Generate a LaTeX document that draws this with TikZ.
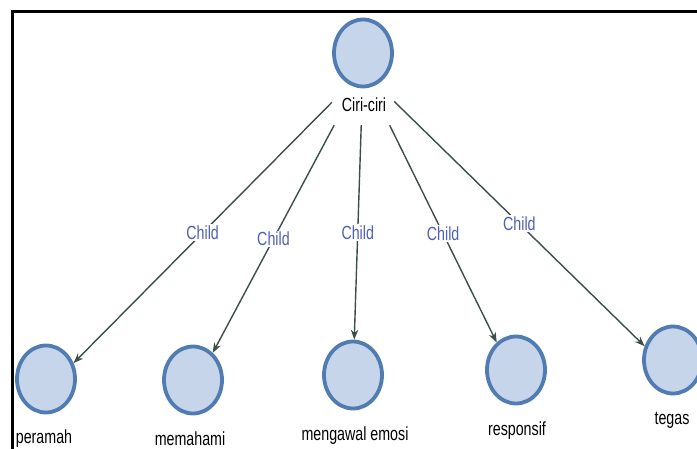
\documentclass[tikz,border=0pt]{standalone}
\usepackage{fontspec}
\setmainfont{Liberation Sans}[FakeStretch=0.75]
\usetikzlibrary{shapes.geometric,arrows.meta}
\definecolor{cfill}{RGB}{198,213,234}
\definecolor{cline}{RGB}{80,124,178}
\definecolor{edgec}{RGB}{60,78,74}
\definecolor{childc}{RGB}{78,96,180}
\begin{document}
\begin{tikzpicture}[x=1pt,y=-1pt,
  ent/.style={ellipse,draw=cline,fill=cfill,line width=3.8pt,minimum width=58pt,minimum height=67pt,inner sep=0pt},
  lbl/.style={font=\fontsize{19}{21}\selectfont,text=black,inner sep=1pt},
  rel/.style={draw=edgec,line width=1.4pt,-{Stealth[length=10pt,width=7.5pt]}},
  rl/.style={font=\fontsize{19}{21}\selectfont,text=childc,fill=white,inner sep=1.5pt}]
\clip (0,0) rectangle (697,448);
\draw[line width=3pt] (12.5,480) -- (12.5,11.5) -- (720,11.5);
% parent
\node[ent] (top) at (363,53) {};
\node[lbl] (toplbl) at (364,105) {Ciri-ciri};
\node[draw=none,minimum width=62pt,minimum height=108pt,inner sep=0pt] (ciri) at (363,71) {};
% children
\node[ent] (peramah) at (46,379) {};
\node[lbl] (lperamah) at (44,439) {peramah};
\node[ent] (memahami) at (193,380) {};
\node[lbl] (lmemahami) at (190,439) {memahami};
\node[ent] (mengawal) at (353,375) {};
\node[lbl] (lmengawal) at (355,436) {mengawal emosi};
\node[ent] (responsif) at (516,370) {};
\node[lbl] (lresponsif) at (517,431) {responsif};
\node[ent] (tegas) at (673,360) {};
\node[lbl] (ltegas) at (672,420) {tegas};
% connectors
\draw[rel] (ciri) -- (peramah.30) node[rl,midway] {Child};
\draw[rel] (ciri) -- (memahami.54) node[rl,midway] {Child};
\draw[rel] (ciri) -- (mengawal.88) node[rl,midway] {Child};
\draw[rel] (ciri) -- (responsif.125) node[rl,midway] {Child};
\draw[rel] (ciri) -- (tegas.154) node[rl,midway] {Child};
\end{tikzpicture}
\end{document}
